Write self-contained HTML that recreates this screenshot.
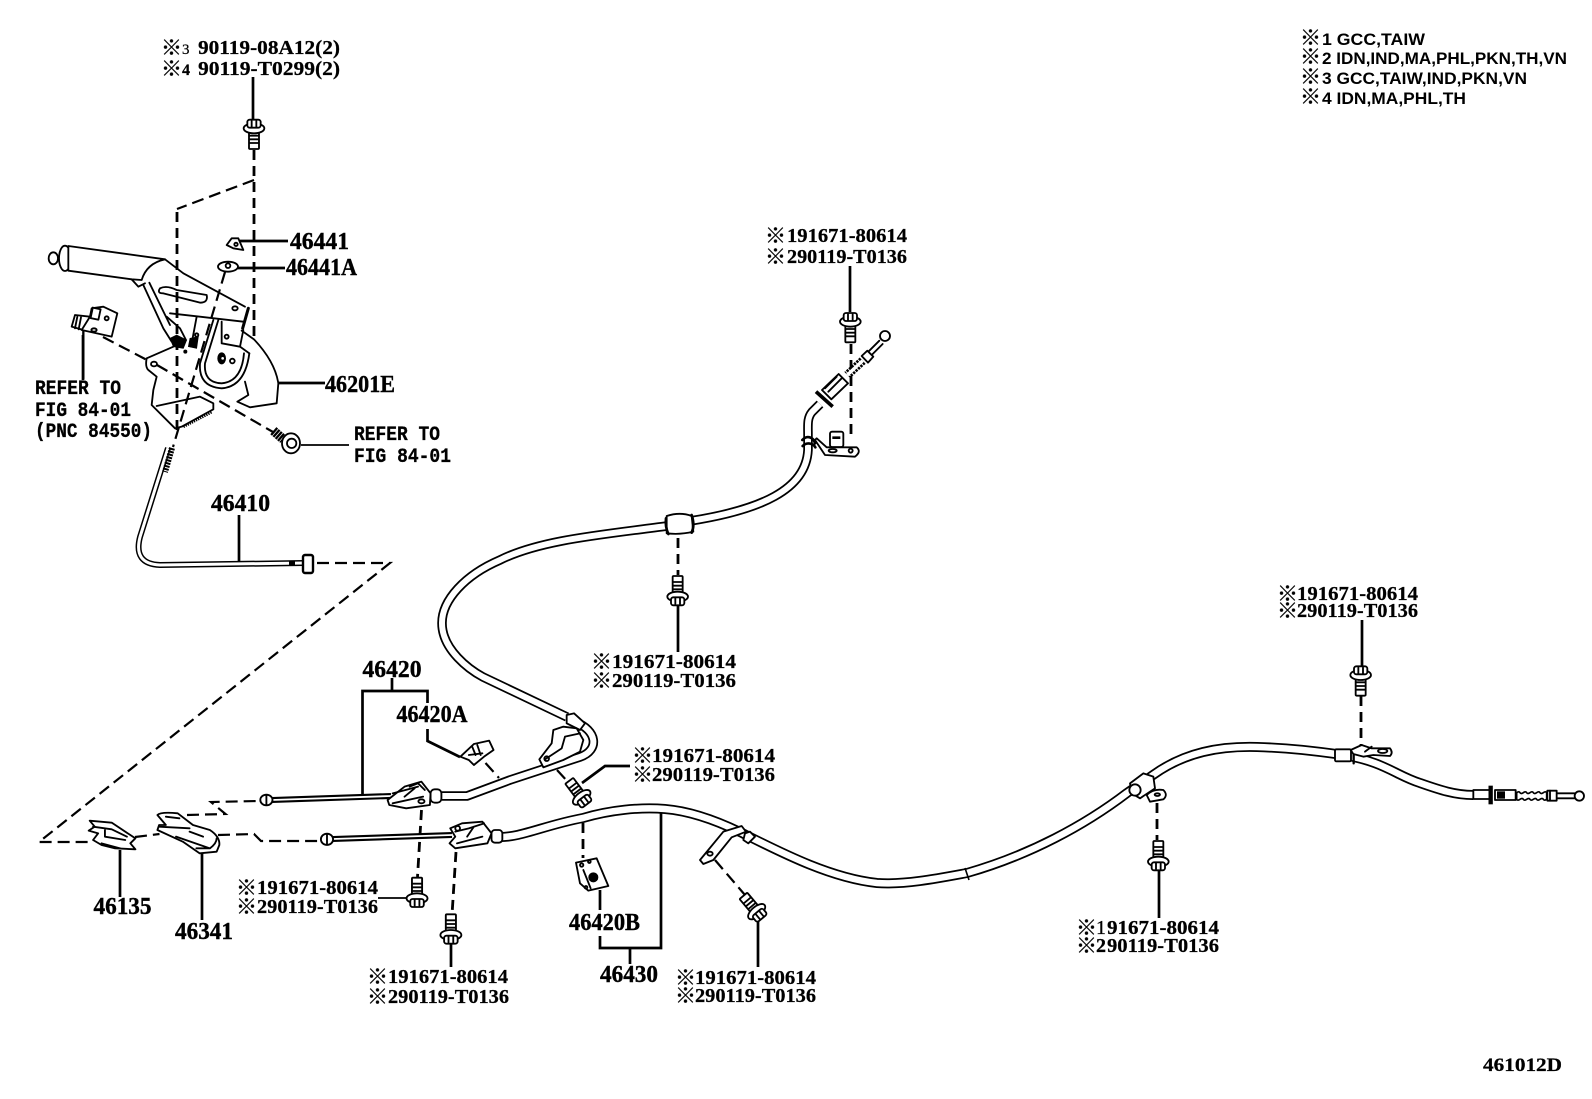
<!DOCTYPE html>
<html><head><meta charset="utf-8"><title>461012D</title>
<style>
html,body{margin:0;padding:0;background:#fff}
svg{display:block}
.n{font:bold 24px "Liberation Serif","Noto Sans CJK JP",serif;fill:#000;stroke:#000;stroke-width:.4}
.s{font:bold 20px "Liberation Serif","Noto Sans CJK JP",serif;fill:#000;stroke:#000;stroke-width:.25}
.m{font:bold 20px "Liberation Mono",monospace;fill:#000;stroke:#000;stroke-width:.3}
.k{font:bold 21px "Noto Sans CJK JP",sans-serif;fill:#000;stroke:#000;stroke-width:.3}
.l{font:bold 17px "Liberation Sans","Noto Sans CJK JP",sans-serif;fill:#000}
.t{fill:none;stroke:#000;stroke-width:2.7}
.d{fill:none;stroke:#000;stroke-width:2.2;stroke-dasharray:12 6}
.D{fill:none;stroke:#000;stroke-width:2.8;stroke-dasharray:10 6}
.z{fill:none;stroke:#000;stroke-width:5.5;stroke-linejoin:round;stroke-linecap:round}
.w{fill:#fff;stroke:#000;stroke-width:5.5;stroke-linejoin:round}
.b{fill:#000;stroke:#000;stroke-width:2}
</style></head><body>
<svg xmlns="http://www.w3.org/2000/svg" width="1592" height="1099" viewBox="0 0 1592 1099">
<defs>
<g id="bolt">
<rect class="w" x="-15" y="8" width="30" height="54" rx="3"/>
<path class="z" d="M-14 22H14M-14 33H14M-14 44H14"/>
<ellipse class="w" cx="0" cy="0" rx="31" ry="15"/>
<rect class="w" x="-20" y="-26" width="40" height="24" rx="7"/>
<path class="z" d="M-7 -22V-4M7 -22V-4"/>
</g>
</defs>
<rect width="1592" height="1099" fill="#fff"/>

<!-- legend -->
<text class="k" x="1300" y="45">※</text><text class="l" x="1322" y="45" textLength="103" lengthAdjust="spacingAndGlyphs">1 GCC,TAIW</text>
<text class="k" x="1300" y="64">※</text><text class="l" x="1322" y="64" textLength="245" lengthAdjust="spacingAndGlyphs">2 IDN,IND,MA,PHL,PKN,TH,VN</text>
<text class="k" x="1300" y="84">※</text><text class="l" x="1322" y="84" textLength="205" lengthAdjust="spacingAndGlyphs">3 GCC,TAIW,IND,PKN,VN</text>
<text class="k" x="1300" y="104">※</text><text class="l" x="1322" y="104" textLength="144" lengthAdjust="spacingAndGlyphs">4 IDN,MA,PHL,TH</text>
<text class="s" x="1483" y="1071" style="font-size:19px" textLength="79" lengthAdjust="spacingAndGlyphs">461012D</text>

<!-- top bolt labels -->
<text class="k" x="161" y="55">※</text><text class="s" x="182" y="54" style="font-weight:normal;font-size:15px">3</text><text class="s" x="198" y="54" textLength="142" lengthAdjust="spacingAndGlyphs">90119-08A12(2)</text>
<text class="k" x="161" y="76">※</text><text class="s" x="182" y="75" style="font-size:16px">4</text><text class="s" x="198" y="75" textLength="142" lengthAdjust="spacingAndGlyphs">90119-T0299(2)</text>

<!-- part numbers -->
<text class="n" x="290" y="249" textLength="59" lengthAdjust="spacingAndGlyphs">46441</text>
<text class="n" x="286" y="275" textLength="71" lengthAdjust="spacingAndGlyphs">46441A</text>
<text class="n" x="325" y="392" textLength="70" lengthAdjust="spacingAndGlyphs">46201E</text>
<text class="n" x="211" y="511" textLength="59" lengthAdjust="spacingAndGlyphs">46410</text>
<text class="n" x="362.5" y="677" textLength="59" lengthAdjust="spacingAndGlyphs">46420</text>
<text class="n" x="396.5" y="722" textLength="71" lengthAdjust="spacingAndGlyphs">46420A</text>
<text class="n" x="93.5" y="914" textLength="58" lengthAdjust="spacingAndGlyphs">46135</text>
<text class="n" x="175" y="939" textLength="58" lengthAdjust="spacingAndGlyphs">46341</text>
<text class="n" x="569" y="930" textLength="71" lengthAdjust="spacingAndGlyphs">46420B</text>
<text class="n" x="600" y="982" textLength="58" lengthAdjust="spacingAndGlyphs">46430</text>

<text class="m" x="35" y="394" textLength="86" lengthAdjust="spacingAndGlyphs">REFER TO</text>
<text class="m" x="35" y="416" textLength="96" lengthAdjust="spacingAndGlyphs">FIG 84-01</text>
<text class="m" x="35" y="437" textLength="117" lengthAdjust="spacingAndGlyphs">(PNC 84550)</text>
<text class="m" x="354" y="440" textLength="86" lengthAdjust="spacingAndGlyphs">REFER TO</text>
<text class="m" x="354" y="462" textLength="97" lengthAdjust="spacingAndGlyphs">FIG 84-01</text>

<!-- twin labels -->
<text class="k" x="765" y="243">※</text><text class="s" x="787" y="242" textLength="120" lengthAdjust="spacingAndGlyphs">191671-80614</text>
<text class="k" x="765" y="264">※</text><text class="s" x="787" y="263" textLength="120" lengthAdjust="spacingAndGlyphs">290119-T0136</text>
<text class="k" x="591" y="669">※</text><text class="s" x="612" y="668" textLength="124" lengthAdjust="spacingAndGlyphs">191671-80614</text>
<text class="k" x="591" y="688">※</text><text class="s" x="612" y="687" textLength="124" lengthAdjust="spacingAndGlyphs">290119-T0136</text>
<text class="k" x="632" y="763">※</text><text class="s" x="652" y="762" textLength="123" lengthAdjust="spacingAndGlyphs">191671-80614</text>
<text class="k" x="632" y="782">※</text><text class="s" x="652" y="781" textLength="123" lengthAdjust="spacingAndGlyphs">290119-T0136</text>
<text class="k" x="236" y="895">※</text><text class="s" x="257" y="894" textLength="121" lengthAdjust="spacingAndGlyphs">191671-80614</text>
<text class="k" x="236" y="914">※</text><text class="s" x="257" y="913" textLength="121" lengthAdjust="spacingAndGlyphs">290119-T0136</text>
<text class="k" x="367" y="984">※</text><text class="s" x="388" y="983" textLength="120" lengthAdjust="spacingAndGlyphs">191671-80614</text>
<text class="k" x="367" y="1004">※</text><text class="s" x="388" y="1003" textLength="121" lengthAdjust="spacingAndGlyphs">290119-T0136</text>
<text class="k" x="675" y="985">※</text><text class="s" x="695" y="984" textLength="121" lengthAdjust="spacingAndGlyphs">191671-80614</text>
<text class="k" x="675" y="1003">※</text><text class="s" x="695" y="1002" textLength="121" lengthAdjust="spacingAndGlyphs">290119-T0136</text>
<text class="k" x="1277" y="601">※</text><text class="s" x="1297" y="600" textLength="121" lengthAdjust="spacingAndGlyphs">191671-80614</text>
<text class="k" x="1277" y="618">※</text><text class="s" x="1297" y="617" textLength="121" lengthAdjust="spacingAndGlyphs">290119-T0136</text>
<text class="k" x="1076" y="935">※</text><text class="s" x="1096" y="934" style="font-weight:normal">1</text><text class="s" x="1107" y="934" textLength="112" lengthAdjust="spacingAndGlyphs">91671-80614</text>
<text class="k" x="1076" y="953">※</text><text class="s" x="1096" y="952">2</text><text class="s" x="1107" y="952" textLength="112" lengthAdjust="spacingAndGlyphs">90119-T0136</text>

<!-- leaders -->
<path class="t" d="M253 77V120M240 241H288M238 268H285M278 383H325M83 335V380M239 515V562"/>
<path class="t" style="stroke-width:1.8" d="M301 445H349M378 898H406"/>
<path class="t" d="M678 605V652M850 266V312M392 678V691M362.5 795V691H427.5V703M427.5 729V741L460 757M120 850V897M202 853V920M451 940V967"/>
<path class="t" d="M582 783L605 766H630M600 890V910M600 936V948H661V813M630 948V964M758 920V967M1362 620V667M1159 870V918"/>

<!-- dashed -->
<path class="D" d="M254 150V340M177 430V209"/>
<path class="d" d="M254 180L177 209M225 272L173 447M103 337L147 360M157 365L273 432"/>
<path class="d" d="M317 563H390L39 842H93.5M135 837L159.5 834M187 815L225.5 814L211 802L259 801M218 835L254 834L261 841L322 841"/>
<path class="D" d="M851 344V436M678 538V575M421.5 810L417.5 877M456 852L452 915M583 823V858M1361 696V745M1157 803V840"/>
<path class="d" d="M557 770L569 783M715 860L745 895M485.5 763L499 778"/>

<!-- cables -->
<g fill="none" stroke-linejoin="round">
<path d="M820 404L812 412C807 418 808 425 808 435L808 450C806 490 760 510 690 521L667 526C600 535 540 540 500 560C465 575 442 600 442 623C442 650 470 670 483 677L567 717" stroke="#000" stroke-width="9.5"/>
<path d="M820 404L812 412C807 418 808 425 808 435L808 450C806 490 760 510 690 521L667 526C600 535 540 540 500 560C465 575 442 600 442 623C442 650 470 670 483 677L567 717" stroke="#fff" stroke-width="6"/>
<path d="M575 722C597 730 600 750 580 757L510 780L467 796L442 796" stroke="#000" stroke-width="9.5"/>
<path d="M575 722C597 730 600 750 580 757L510 780L467 796L442 796" stroke="#fff" stroke-width="6"/>
<path d="M498 837C520 838 545 825 583 818C610 810 640 807 665 809C690 811 715 820 740 832C780 852 830 878 877 883C905 885 940 878 967 873C1030 855 1085 825 1127 793L1153 775C1185 752 1220 746 1257 747C1290 748 1315 751 1343 755C1385 762 1395 775 1420 783C1440 790 1455 795 1473 795" stroke="#000" stroke-width="10"/>
<path d="M498 837C520 838 545 825 583 818C610 810 640 807 665 809C690 811 715 820 740 832C780 852 830 878 877 883C905 885 940 878 967 873C1030 855 1085 825 1127 793L1153 775C1185 752 1220 746 1257 747C1290 748 1315 751 1343 755C1385 762 1395 775 1420 783C1440 790 1455 795 1473 795" stroke="#fff" stroke-width="6.5"/>
<path d="M168 448L140 537Q133 564 160 565L304 563" stroke="#000" stroke-width="6"/>
<path d="M168 448L140 537Q133 564 160 565L304 563" stroke="#fff" stroke-width="3"/>
<path d="M172 448L165 472" stroke="#000" stroke-width="6" stroke-dasharray="2 1"/>
<path d="M272 800L391 796" stroke="#000" stroke-width="6"/>
<path d="M272 800L391 796" stroke="#fff" stroke-width="1.8"/>
<path d="M333 839L452 835" stroke="#000" stroke-width="6"/>
<path d="M333 839L452 835" stroke="#fff" stroke-width="1.8"/>
</g>
<path d="M965 868L969 880" class="t" style="stroke-width:1.6"/>

<!-- hand brake in 3x coords -->
<g transform="scale(.33333)">
<use href="#bolt" transform="translate(762 385)"/>
<ellipse class="w" cx="195" cy="775" rx="18" ry="38"/>
<ellipse class="w" cx="160" cy="775" rx="14" ry="18"/>
<path class="w" d="M205 738L495 778Q440 790 425 840L395 838L205 812Z"/>
<path class="z" d="M495 778L550 820L735 920M395 838L415 860L435 850M430 855L490 985L515 1025M448 848L510 975"/>
<path class="z" d="M480 865Q470 880 490 880L600 908Q625 908 620 885L530 870Q500 855 480 865Z"/>
<path class="z" d="M510 940L600 950L730 965"/>
<ellipse class="z" cx="705" cy="925" rx="8" ry="6"/>
<path class="z" style="stroke-width:9" d="M745 925L728 985"/>
<path class="z" d="M725 992L762 1018Q825 1085 835 1150L830 1210L750 1222L712 1205L745 1185L735 1145"/>
<path class="z" d="M640 960L600 1090Q595 1160 665 1165Q735 1160 748 1060M655 960L615 1090Q610 1148 665 1150Q725 1145 732 1060"/>
<path class="z" d="M665 965V1030L720 1040M730 990L720 1040L748 1060"/>
<ellipse class="b" cx="665" cy="1075" rx="12" ry="17"/><circle cx="668" cy="1075" r="4" fill="#fff"/>
<circle class="z" cx="697" cy="1083" r="7"/><circle class="z" cx="680" cy="1010" r="6"/>
<path class="z" d="M520 1040L440 1075Q435 1100 445 1110L470 1130L460 1170L455 1215L525 1285L545 1280L640 1228V1210L600 1190L470 1218"/>
<ellipse class="z" cx="462" cy="1092" rx="9" ry="7"/>
<path d="M550 1280L635 1236" fill="none" stroke="#000" stroke-width="9" stroke-dasharray="4 3"/>
<path class="b" d="M510 1015L530 1005L560 1020L550 1045L520 1040ZM570 1015L595 1010L590 1045L565 1040Z"/>
<circle class="b" cx="556" cy="1055" r="5"/><circle class="z" cx="590" cy="1005" r="5"/>
<path class="z" d="M590 950L575 1030M500 950L540 985L558 1020"/>
<!-- switch -->
<path class="w" d="M225 945L215 980L250 990L270 950Z"/>
<path class="z" d="M232 950L225 985M243 952L236 988"/>
<path class="w" d="M245 990L335 1010L352 940L310 920L275 925L270 950Z"/>
<rect class="w" x="275" y="925" width="24" height="32" transform="rotate(12 287 940)"/>
<circle class="z" cx="320" cy="955" r="6"/><ellipse class="z" cx="282" cy="990" rx="8" ry="5"/>
<path class="z" style="stroke-width:7" d="M250 995V1135"/>
<!-- nuts -->
<path class="w" d="M680 735L695 715H715L730 750L700 745Z"/><circle class="z" cx="708" cy="733" r="5"/>
<ellipse class="w" cx="684" cy="800" rx="30" ry="15"/><circle class="z" cx="684" cy="797" r="7"/>
<!-- right bolt -->
<g transform="translate(875 1330)">
<path d="M-55 -38L-25 -12" stroke="#000" stroke-width="28" stroke-dasharray="7 2" fill="none"/>
<ellipse class="w" cx="-2" cy="0" rx="27" ry="30"/><circle class="z" cx="0" cy="0" r="14"/>
</g>
</g>

<!-- lever cable end -->
<rect x="303" y="555" width="10" height="18" rx="2" fill="#fff" stroke="#000" stroke-width="2.4"/>
<rect x="289" y="561" width="6" height="5" fill="#000"/>

<!-- top fitting -->
<g transform="translate(640 210) scale(.33333)">
<use href="#bolt" transform="translate(631 335)"/>
<path class="z" d="M718 392L685 425M728 402L695 435"/>
<circle class="w" cx="735" cy="378" r="15"/>
<path class="w" d="M665 438L682 422L700 440L684 458Z"/>
<path d="M668 452L622 495" stroke="#000" stroke-width="26" stroke-dasharray="7 3" fill="none"/>
<path d="M668 452L622 495" stroke="#fff" stroke-width="10" fill="none"/>
<polygon class="w" points="624,520 596,492 546,540 574,568"/>
<path class="z" d="M605 505L565 545M590 500L555 535"/>
<path d="M528 545L578 590" stroke="#000" stroke-width="11" fill="none"/>
<path class="z" style="stroke-width:8" d="M487 690C500 675 520 680 525 700M488 708C500 695 520 700 526 712"/>
<path class="w" d="M525 690L555 735L645 740Q665 725 650 712H560L530 685Z"/>
<rect class="w" x="570" y="665" width="40" height="46" rx="6"/>
<path class="b" d="M578 680H600V686H578Z"/>
<ellipse class="z" cx="578" cy="722" rx="12" ry="5"/><circle class="z" cx="632" cy="722" r="6"/>
<!-- mid clamp -->
<path class="w" d="M80 918Q120 905 155 918L160 965Q120 975 80 970Z"/>
<path class="z" style="stroke-width:8" d="M78 925Q75 950 85 972M155 915Q165 945 155 968"/>
</g>

<!-- bolt under mid clamp -->
<g transform="translate(420 500) scale(.33333)">
<use href="#bolt" transform="translate(773 290) rotate(180)"/>
</g>

<!-- lower-left group -->
<g transform="translate(0 640) scale(.3385 .33333)">
<use href="#bolt" transform="translate(1232 775) rotate(180)"/>
<use href="#bolt" transform="translate(1332 885) rotate(180)"/>
<!-- 46135 -->
<path class="w" d="M265 542L330 548L385 585L400 595L385 610L400 628L340 625L300 615L275 600L290 580L262 572L280 560Z"/>
<path class="z" d="M275 560L330 568L375 590M310 570V590L370 600M300 610L355 625"/>
<!-- 46341 -->
<path class="w" d="M465 525Q475 515 525 520L570 555L620 570Q650 590 648 615L640 635L590 640L540 605L465 570L470 555L490 555Z"/>
<path class="z" d="M490 530L530 535M470 560L560 565M520 590L620 625Q640 610 640 595M560 575L600 590M580 625H620"/>
<!-- rod ends -->
<ellipse class="w" cx="787" cy="480" rx="18" ry="16"/><path class="z" d="M787 466V494"/>
<ellipse class="w" cx="966" cy="598" rx="18" ry="17"/><path class="z" d="M966 583V613"/>
<!-- bracket 1 -->
<path class="w" d="M1145 480L1195 440L1245 425L1272 460L1270 495L1200 505L1150 495Z"/>
<path class="z" d="M1160 460L1205 448L1235 440M1160 490L1250 470M1210 440L1235 430L1255 450M1195 470L1225 445"/>
<ellipse class="z" cx="1245" cy="484" rx="9" ry="6"/>
<rect class="w" x="1272" y="448" width="32" height="40" rx="12"/>
<!-- bracket 2 -->
<path class="w" d="M1330 565L1365 550L1425 545L1452 580L1440 610L1345 625L1328 610L1345 590Z"/>
<path class="z" d="M1345 575L1385 565L1430 550M1350 610L1425 590M1380 590L1400 560"/>
<circle class="z" cx="1352" cy="565" r="7"/>
<rect class="w" x="1452" y="570" width="32" height="38" rx="10"/>
<!-- clip 46420A -->
<path class="w" d="M1360 350L1400 312L1445 302L1458 330L1430 350L1400 375L1385 360Z"/>
<path class="z" d="M1395 320L1405 345M1385 345L1425 340M1410 315L1420 345"/>
</g>

<!-- rear bracket and return -->
<g transform="translate(500 680) scale(.33333)">
<path class="w" d="M200 105L222 100L255 130L240 150L200 130Z"/>
<path class="w" d="M160 150L190 140L230 145L250 180L240 215L190 240L130 262L118 238L155 190Z"/>
<path class="z" d="M195 170L240 160M195 170L185 205L135 238"/>
<circle class="z" cx="140" cy="236" r="7"/>
<use href="#bolt" transform="translate(245 352) rotate(143)"/>
<!-- 46420B -->
<path class="w" d="M228 548L290 535L325 618L265 632L240 610Z"/>
<circle class="b" cx="280" cy="592" r="14"/>
<circle class="z" cx="245" cy="555" r="5"/><circle class="z" cx="268" cy="545" r="4"/>
<circle class="z" cx="258" cy="622" r="4"/><path class="z" d="M250 570L272 625"/>
<!-- mid clamp 2 -->
<path class="w" d="M600 540L670 455L725 438L738 455L695 472L640 540L610 552Z"/>
<ellipse class="z" cx="630" cy="521" rx="8" ry="6"/>
<path class="w" d="M735 460L750 455L765 470L745 490L730 480Z"/>
<use href="#bolt" transform="translate(770 695) rotate(140)"/>
</g>

<!-- right group -->
<g transform="translate(1100 560) scale(.33333)">
<use href="#bolt" transform="translate(782 345)"/>
<use href="#bolt" transform="translate(175 905) rotate(180)"/>
<path class="w" d="M90 670L130 640L160 650L165 685L120 715L95 700Z"/>
<circle class="w" cx="105" cy="690" r="17"/>
<path class="w" d="M140 705Q160 685 190 690Q205 705 190 718L150 725Z"/>
<ellipse class="z" cx="172" cy="704" rx="8" ry="4"/>
<rect class="w" x="705" y="568" width="48" height="36" rx="4"/>
<path class="z" style="stroke-width:7" d="M761 578V610"/>
<path class="w" d="M752 570L785 555L815 565L870 565Q880 578 870 588L820 585L790 590L760 582Z"/>
<ellipse class="z" cx="848" cy="573" rx="14" ry="6"/>
<path class="z" d="M795 575L815 560"/>
<!-- end fitting -->
<rect class="w" x="1120" y="690" width="52" height="27"/>
<path d="M1172 677V733" stroke="#000" stroke-width="13"/>
<rect class="w" x="1185" y="690" width="62" height="30"/>
<rect class="b" x="1192" y="695" width="22" height="20"/>
<path d="M1250 698q7 -5 10 0t10 0t10 0t10 0t10 0t10 0t10 0t10 0t10 0V718q-7 5 -10 0t-10 0t-10 0t-10 0t-10 0t-10 0t-10 0t-10 0t-10 0Z" fill="#fff" stroke="#000" stroke-width="5"/>
<rect class="w" x="1342" y="692" width="28" height="30"/>
<path class="z" d="M1350 692V722M1372 700H1425M1372 715H1425"/>
<circle class="w" cx="1438" cy="708" r="14"/>
</g>
</svg>
</body></html>
